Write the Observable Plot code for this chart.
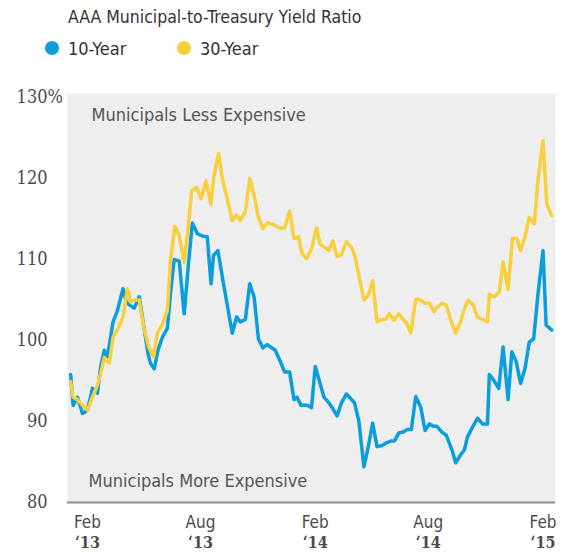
<!DOCTYPE html>
<html><head><meta charset="utf-8">
<script src="https://cdn.jsdelivr.net/npm/d3@7"></script>
<script src="https://cdn.jsdelivr.net/npm/@observablehq/plot@0.6"></script>
<style>
body{margin:0;background:#fff;}
#wrap{width:566px;height:552px;position:relative;}
svg{display:block;}
</style></head><body><div id="wrap"></div>
<script>
const title = "AAA Municipal-to-Treasury Yield Ratio";
const seriesNames = ["10-Year", "30-Year"];
const seriesColors = ["#0a9edc", "#f8cf3d"];
// day offsets from 1 Feb 2013
const days10 = [-27,-23,-16,-8,0,8,16,21,27,32,41,48,57,62,67,75,83,90,97,101,107,113,120,128,133,139,147,155,161,168,176,184,192,198,202,209,218,232,239,245,253,260,267,274,281,288,301,309,316,324,331,336,342,352,359,365,372,379,387,393,400,407,415,421,428,435,443,450,457,464,471,480,487,492,499,506,512,519,526,534,541,548,555,560,568,575,584,590,598,604,609,617,625,633,641,644,651,659,666,674,680,687,694,701,708,715,722,730,735,744];
const vals10 = [95.8,92.0,93.0,91.0,91.4,94.1,93.5,96.7,98.8,98.0,102.3,103.7,106.4,104.8,104.4,104.0,105.4,101.9,98.4,97.2,96.5,98.8,100.4,101.5,105.8,110.0,109.8,103.3,108.7,114.5,113.2,112.9,112.8,107.0,110.5,111.1,107.0,100.9,102.9,102.3,102.6,107.0,105.4,100.2,99.1,99.5,98.8,97.4,96.1,96.1,92.7,93.0,92.0,92.0,91.7,96.8,94.9,93.0,92.3,91.6,90.7,92.3,93.4,92.9,92.3,90.0,84.4,86.9,89.8,86.9,87.0,87.4,87.6,87.6,88.6,88.7,89.0,89.0,93.1,91.8,88.9,89.7,89.4,89.4,88.7,88.3,86.5,84.9,85.9,86.5,88.1,89.3,90.4,89.7,89.7,95.8,95.1,94.1,99.2,92.7,98.6,97.4,94.7,96.5,99.8,100.2,105.8,111.1,101.9,101.3];
const days30 = [-27,-23,-16,-8,0,8,16,21,27,35,41,49,57,64,69,75,83,90,98,106,112,120,128,133,140,147,155,161,167,175,182,190,198,202,210,217,224,232,239,245,253,260,267,274,281,288,296,308,316,324,331,338,344,351,359,367,373,380,387,393,400,407,415,423,428,435,443,450,457,464,471,478,484,491,499,506,512,518,526,534,541,548,555,562,568,575,583,590,598,603,610,618,625,633,641,644,652,660,666,674,681,688,694,701,708,716,722,730,736,744];
const vals30 = [94.9,93.0,92.7,92.0,91.4,93.0,94.5,95.9,97.9,97.2,100.4,101.5,102.9,106.4,104.8,105.0,105.0,101.7,99.2,98.0,100.9,102.0,103.7,109.9,114.1,113.0,109.6,113.6,118.5,118.9,117.5,119.7,116.8,120.0,123.1,119.6,117.5,114.8,115.5,114.8,115.9,120.0,117.9,115.2,113.8,114.5,114.4,113.9,113.9,116.0,112.6,112.8,110.7,110.1,111.3,113.9,111.9,111.5,111.1,112.3,110.4,110.6,112.2,111.5,110.5,108.0,105.0,105.6,107.4,102.3,102.6,102.6,103.3,102.5,103.3,102.6,102.1,100.9,105.1,105.0,104.6,104.6,103.6,104.2,104.6,104.4,102.3,100.9,102.3,103.7,105.0,104.4,102.9,102.6,102.3,105.7,105.4,106.0,109.7,106.3,112.6,112.6,111.1,112.8,115.2,114.4,119.8,124.7,116.9,115.4];
const yTicks = [80, 90, 100, 110, 120, 130];
const xTickDates = ["2013-02-01", "2013-08-01", "2014-02-01", "2014-08-01", "2015-02-01"];
const xTickMonths = ["Feb", "Aug", "Feb", "Aug", "Feb"];
const xTickYears = ["\u201813", "\u201813", "\u201814", "\u201814", "\u201815"];
const annotations = ["Municipals Less Expensive", "Municipals More Expensive"];

const sans = '"DejaVu Sans Condensed","DejaVu Sans",sans-serif';
const serif = '"DejaVu Serif",serif';
const toDate = d => new Date(Date.UTC(2013, 1, 1 + d));
const rows10 = days10.map((d, i) => ({date: toDate(d), value: vals10[i]}));
const rows30 = days30.map((d, i) => ({date: toDate(d), value: vals30[i]}));
const tickDates = xTickDates.map(s => new Date(s + "T00:00:00Z"));
const monthOf = new Map(tickDates.map((d, i) => [+d, xTickMonths[i]]));
const yearOf = new Map(tickDates.map((d, i) => [+d, xTickYears[i]]));

const wrap = d3.select("#wrap");
const header = wrap.append("svg").attr("width", 566).attr("height", 70)
  .style("font-family", sans).style("font-stretch", "condensed");
header.append("text").attr("x", 68).attr("y", 23).attr("font-size", 17.5).attr("fill", "#333").text(title);
const legendX = [52, 184];
seriesNames.forEach((name, i) => {
  header.append("circle").attr("cx", legendX[i]).attr("cy", 48).attr("r", 7).attr("fill", seriesColors[i]);
  header.append("text").attr("x", legendX[i] + 16).attr("y", 55).attr("font-size", 18).attr("fill", "#333").text(name);
});

const chart = Plot.plot({
  width: 566, height: 482,
  marginLeft: 67, marginRight: 11, marginTop: 23, marginBottom: 50,
  style: {fontFamily: sans, fontStretch: "condensed", background: "transparent", overflow: "visible"},
  x: {type: "utc", domain: [new Date(Date.UTC(2012, 11, 31)), new Date(Date.UTC(2015, 1, 21))]},
  y: {domain: [80, 130.5]},
  marks: [
    Plot.frame({fill: "#eeeeee", stroke: null}),
    Plot.ruleY([80], {stroke: "#8c8c8c", strokeWidth: 2}),
    Plot.axisY(yTicks, {tickSize: 0, tickPadding: 20, fontFamily: serif, fontSize: 18, fill: "#4a4a4a", label: null, tickFormat: d => String(d)}),
    Plot.text([130], {y: d => d, frameAnchor: "left", dx: -20, text: () => "%", textAnchor: "start", fontFamily: serif, fontSize: 18, fill: "#4a4a4a"}),
    Plot.axisX(tickDates, {tickSize: 0, tickPadding: 13, fontSize: 17, fill: "#4a4a4a", label: null, tickFormat: d => monthOf.get(+d)}),
    Plot.axisX(tickDates, {tickSize: 0, tickPadding: 34, fontSize: 16, fontWeight: "bold", fontFamily: serif, fill: "#4a4a4a", label: null, tickFormat: d => yearOf.get(+d)}),
    Plot.text([annotations[0]], {text: d => d, frameAnchor: "top-left", dx: 24, dy: 22, textAnchor: "start", lineAnchor: "middle", fontSize: 18, fill: "#555"}),
    Plot.text([annotations[1]], {text: d => d, frameAnchor: "bottom-left", dx: 21, dy: -21, textAnchor: "start", lineAnchor: "middle", fontSize: 18, fill: "#555"}),
    Plot.line(rows10, {x: "date", y: "value", stroke: seriesColors[0], strokeWidth: 3.5, strokeLinejoin: "round"}),
    Plot.line(rows30, {x: "date", y: "value", stroke: seriesColors[1], strokeWidth: 3.5, strokeLinejoin: "round"})
  ]
});
wrap.node().appendChild(chart);
</script></body></html>
